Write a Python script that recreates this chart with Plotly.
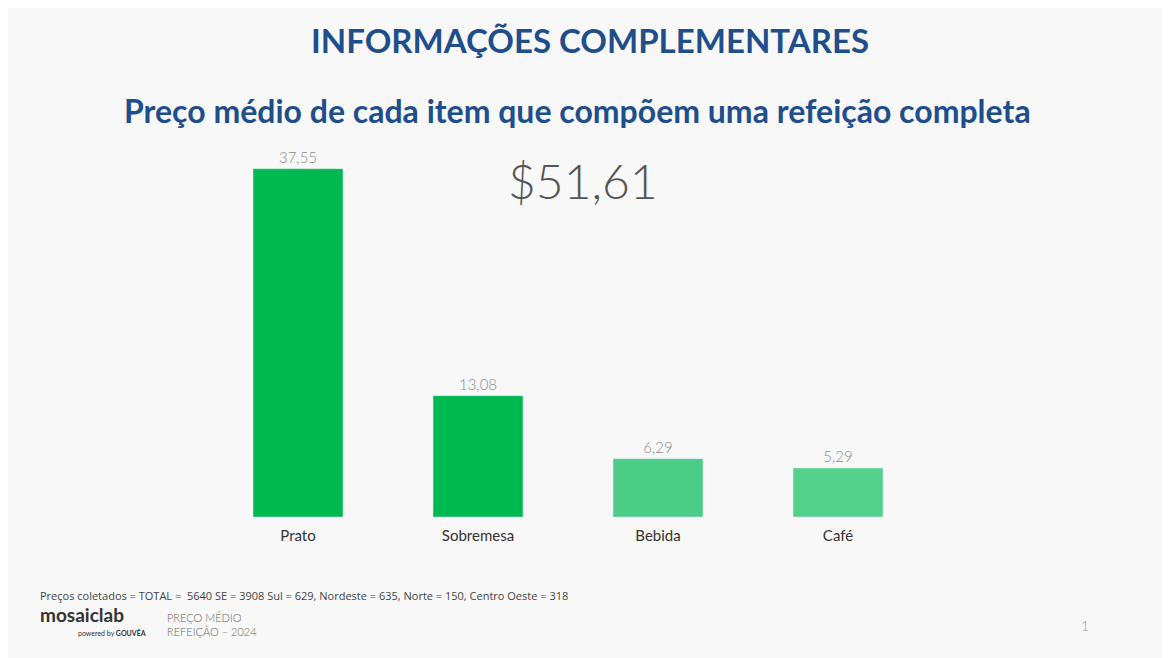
import plotly.graph_objects as go

categorias = ['Prato', 'Sobremesa', 'Bebida', 'Café']
precos = [37.55, 13.08, 6.29, 5.29]
cores = ['#00B850', '#00B850', '#4CCD87', '#55D18E']
total = '$51,61'
nota = 'Preços coletados = TOTAL =  5640 SE = 3908 Sul = 629, Nordeste = 635, Norte = 150, Centro Oeste = 318'

fig = go.Figure(go.Bar(
    x=categorias, y=precos, marker_color=cores, width=0.5,
    text=[f'{v:.2f}'.replace('.', ',') for v in precos],
    textposition='outside', cliponaxis=False,
    textfont=dict(family='Lato', size=15, color='#8C8C8C', weight=300),
))

L, R, T, B = 200, 920, 138, 509
fig.update_layout(
    width=1170, height=658,
    margin=dict(l=L, r=1170 - R, t=T, b=658 - B),
    paper_bgcolor='#F8F8F8', plot_bgcolor='#F8F8F8',
    showlegend=False,
    xaxis=dict(tickfont=dict(family='Lato', size=15, color='#333'), showline=False, ticks='',
               ticklabelstandoff=8),
    yaxis=dict(visible=False, range=[0, 40]),
    font=dict(family='Lato'),
)


def px(x, y):
    # screenshot pixel -> paper coords (page is offset by 8px)
    return (x - 8 - L) / (R - L), (B - (y - 8)) / (B - T)


def note(text, x, y, size, color, family='Lato', anchor='center', bold=False, weight=None, align='center'):
    ax, ay = px(x, y)
    f = dict(family=family, size=size, color=color)
    if weight:
        f['weight'] = weight
    fig.add_annotation(text=f'<b>{text}</b>' if bold else text, showarrow=False, xref='paper', yref='paper',
                       x=ax, y=ay, xanchor=anchor, yanchor='middle', align=align, font=f)


note('INFORMAÇÕES COMPLEMENTARES', 590, 40, 33, '#1F4E8C', bold=True)
note('Preço médio de cada item que compõem uma refeição completa', 577, 110, 32, '#1F4E8C', bold=True)
note(total, 583, 180, 48, '#555555', weight=300)
note(nota, 38, 595, 11, '#444', family='Open Sans', anchor='left')
note('mosaiclab', 38, 614, 19, '#333', anchor='left', bold=True)
note('powered by <b>GOUVÊA</b>', 148, 633, 7, '#333', anchor='right')
note('PREÇO MÉDIO<br>REFEIÇÃO – 2024', 165, 624, 11, '#666', anchor='left', weight=300, align='left')
note('1', 1085, 625, 14, '#999', weight=300)

fig.write_html('out.html')
